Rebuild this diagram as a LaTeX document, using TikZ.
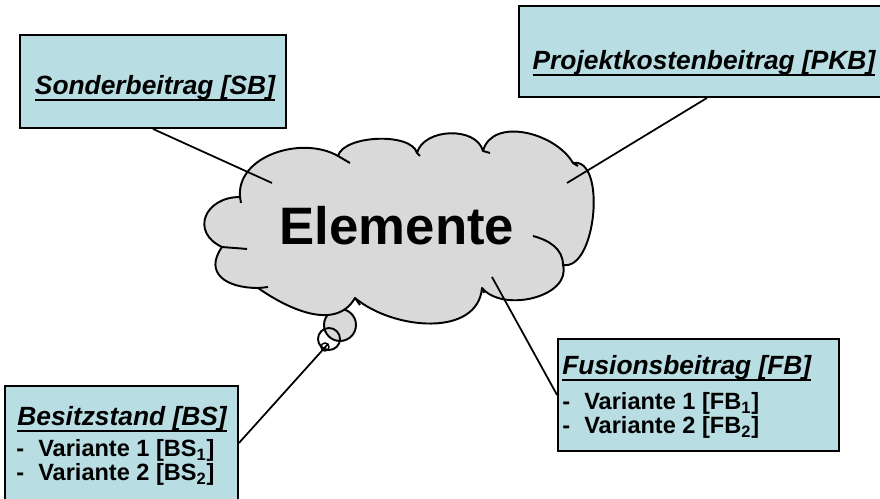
\documentclass[tikz,border=0pt]{standalone}
\usepackage{fontspec}
\setmainfont{Liberation Sans}
\usepackage{tikz}
\usetikzlibrary{arrows.meta, positioning, calc}
\definecolor{boxfill}{HTML}{B8DEE3}
\definecolor{cloudfill}{HTML}{D9D9D9}
\newcommand{\titleul}[1]{\setbox0=\hbox{#1}\rlap{\rule[-3.2pt]{\wd0}{1.1pt}}\box0}

\begin{document}
\begin{tikzpicture}[x=0.02cm, y=0.02cm,
  box/.style={draw, line width=1.1pt, fill=boxfill, inner sep=0pt},
  title/.style={font=\fontsize{15}{18}\selectfont\bfseries\itshape, inner sep=0pt},
  variant/.style={font=\fontsize{13.4}{16}\selectfont\bfseries, inner sep=0pt},
  link/.style={line width=1pt},
  cloudline/.style={line width=1.1pt, line join=round},
  bubble/.style={circle, draw, line width=1.1pt, inner sep=0pt}]
  \clip (0,0) rectangle (880,499);
  % the four contribution boxes
  \node[box, minimum width=5.32cm, minimum height=1.86cm] (sb) at (153,417.5) {};
  \node[box, minimum width=7.26cm, minimum height=1.82cm] (pkb) at (700.5,447.5) {};
  \node[box, minimum width=5.62cm, minimum height=2.24cm] (fb) at (698.5,104) {};
  \node[box, minimum width=4.66cm, minimum height=2.28cm] (bs) at (121.5,56) {};

  % thought bubbles under the cloud
  \node[bubble, fill=cloudfill, minimum size=0.64cm] (bub1) at (340,174) {};
  \node[bubble, minimum size=0.44cm] (bub2) at (329,160) {};
  \node[bubble, line width=0.8pt, minimum size=0.16cm] (bub3) at (325,152) {};

  % cloud outline, puff by puff
  \coordinate (c1) at (240,302);
  \coordinate (c2) at (338,343);
  \coordinate (c3) at (417,346);
  \coordinate (c4) at (483,348);
  \coordinate (c5) at (573,336);
  \coordinate (c6) at (563,234);
  \coordinate (c7) at (482,211);
  \coordinate (c8) at (355,201);
  \coordinate (c9) at (258,211);
  \coordinate (c10) at (222,252);
  \draw[cloudline, fill=cloudfill] (c1) to[out=95,in=150] (c2)
    to[out=75,in=105,looseness=0.7] (c3)
    to[out=75,in=105] (c4)
    to[out=75,in=120] (c5)
    to[out=10,in=-10,looseness=0.85] (c6)
    to[out=-75,in=-50] (c7)
    to[out=-95,in=-40] (c8)
    to[out=-120,in=-35] (c9)
    to[out=180,in=-125,looseness=1.5] (c10)
    to[out=155,in=180,looseness=1.7] (c1) -- cycle;
  \draw[cloudline] (c2) to[out=-30,in=150] ++(12,-7)
    (c10) to[out=-5,in=175] ++(25,-2)
    (c9) to[out=0,in=185] ++(10,1)
    (c8) -- ++(5,-7)
    (c7) -- ++(2,-5)
    (533,263) to[out=-15,in=90] (c6)
    (c5) -- ++(5,-3)
    (c4) -- ++(7,-2)
    (c3) -- ++(3,-3)
    (c1) -- ++(1,-6);
  \node[font=\fontsize{30}{36}\selectfont\bfseries, anchor=base] (elemente) at (397,254) {Elemente};

  % connectors
  \coordinate (sbend) at (272,316);
  \coordinate (pkbend) at (567,316);
  \coordinate (fbend) at (492,222);
  \draw[link] (sb.south) -- (sbend);
  \draw[link] ([xshift=0.13cm]pkb.south) -- (pkbend);
  \draw[link] (fbend) -- (fb.west);
  \draw[link] (bs.east) -- (bub3.north east);

  % box texts
  \node[title, anchor=base] (sbtitle) at (155,404) {\titleul{Sonderbeitrag [SB]}};
  \node[title, anchor=base] (pkbtitle) at (704,429) {\titleul{Projektkostenbeitrag [PKB]}};
  \node[title, anchor=base west] (fbtitle) at (562,124) {\titleul{Fusionsbeitrag [FB]}};
  \foreach \idx/\y in {1/89, 2/65}
    \node[variant, anchor=base west] (fbv\idx) at (562,\y)
      {-\hspace{0.6em}Variante \idx\ [FB\textsubscript{\idx}]};
  \node[title, anchor=base west] (bstitle) at (17,73) {\titleul{Besitzstand [BS]}};
  \foreach \idx/\y in {1/42, 2/18}
    \node[variant, anchor=base west] (bsv\idx) at (16,\y)
      {-\hspace{0.6em}Variante \idx\ [BS\textsubscript{\idx}]};
\end{tikzpicture}
\end{document}
